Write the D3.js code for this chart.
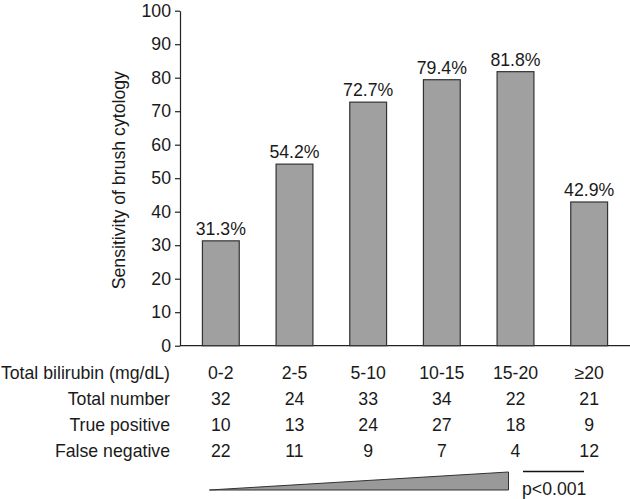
<!DOCTYPE html>
<html lang="en">
<head>
    <meta charset="UTF-8">
    <title>Sensitivity of brush cytology by total bilirubin</title>
    <script src="https://d3js.org/d3.v7.min.js"></script>
    <style>
        body {
            margin: 0;
            background: #fff;
        }
        svg {
            display: block;
            font-family: 'Liberation Sans', Arial, sans-serif;
        }
        .axis path,
        .axis line {
            stroke: #222;
            stroke-width: 1.2;
        }
        .axis text {
            font-size: 17.7px;
            fill: #1a1a1a;
        }
        .bar {
            fill: #a0a0a0;
            stroke: #333;
            stroke-width: 1.2;
        }
        .lbl {
            font-size: 17.7px;
            fill: #1a1a1a;
        }
    </style>
</head>
<body>
    <svg width="630" height="499"></svg>

    <script>
        const categories = ['0-2', '2-5', '5-10', '10-15', '15-20', '≥20'];
        const sensitivity = [31.3, 54.2, 72.7, 79.4, 81.8, 42.9];
        const totalNumber = [32, 24, 33, 34, 22, 21];
        const truePositive = [10, 13, 24, 27, 18, 9];
        const falseNegative = [22, 11, 9, 7, 4, 12];
        const yTicks = [0, 10, 20, 30, 40, 50, 60, 70, 80, 90, 100];

        const svg = d3.select('svg');
        const width = 630;
        const axisX = 180;

        const x = d3.scaleBand()
            .domain(categories)
            .range([184, 626])
            .paddingInner(0.5)
            .paddingOuter(0.25);

        const y = d3.scaleLinear()
            .domain([0, 100])
            .range([345.7, 10.7]);

        const cx = c => x(c) + x.bandwidth() / 2;

        // Y axis
        const yAxis = svg.append('g')
            .attr('class', 'axis')
            .attr('transform', `translate(${axisX},0)`)
            .call(d3.axisLeft(y).tickValues(yTicks).tickSize(5).tickSizeOuter(0).tickPadding(4));
        yAxis.attr('font-family', null).attr('font-size', null);

        // baseline
        svg.append('line')
            .attr('x1', axisX).attr('x2', width)
            .attr('y1', y(0)).attr('y2', y(0))
            .attr('stroke', '#222').attr('stroke-width', 1.2);

        // Y axis title
        svg.append('text')
            .attr('class', 'lbl')
            .attr('transform', `translate(125,${(y(0) + y(100)) / 2 + 2}) rotate(-90)`)
            .attr('text-anchor', 'middle')
            .text('Sensitivity of brush cytology');

        // Bars
        svg.append('g')
            .selectAll('rect')
            .data(categories)
            .join('rect')
            .attr('class', 'bar')
            .attr('x', c => x(c))
            .attr('y', (c, i) => y(sensitivity[i]))
            .attr('width', x.bandwidth())
            .attr('height', (c, i) => y(0) - y(sensitivity[i]));

        // Value labels
        svg.append('g')
            .selectAll('text')
            .data(categories)
            .join('text')
            .attr('class', 'lbl')
            .attr('x', c => cx(c))
            .attr('y', (c, i) => y(sensitivity[i]) - 6)
            .attr('text-anchor', 'middle')
            .text((c, i) => sensitivity[i].toFixed(1) + '%');

        // Table below the chart
        const rows = [
            { label: 'Total bilirubin (mg/dL)', values: categories, yPos: 379 },
            { label: 'Total number', values: totalNumber, yPos: 405 },
            { label: 'True positive', values: truePositive, yPos: 431 },
            { label: 'False negative', values: falseNegative, yPos: 457 }
        ];

        rows.forEach(r => {
            const g = svg.append('g');
            g.append('text')
                .attr('class', 'lbl')
                .attr('x', 170)
                .attr('y', r.yPos)
                .attr('text-anchor', 'end')
                .text(r.label);
            g.selectAll('text.v')
                .data(r.values)
                .join('text')
                .attr('class', 'lbl v')
                .attr('x', (v, i) => cx(categories[i]))
                .attr('y', r.yPos)
                .attr('text-anchor', 'middle')
                .text(v => v);
        });

        // Trend wedge under 0-2 .. 15-20
        const wx0 = x(categories[0]) + 7;
        const wx1 = x(categories[4]) + x.bandwidth() / 2 - 7;
        svg.append('path')
            .attr('d', `M${wx0},490 L${wx1},472 L${wx1},490 Z`)
            .attr('fill', '#999')
            .attr('stroke', '#333')
            .attr('stroke-width', 1);

        // p-value bracket
        svg.append('line')
            .attr('x1', 523).attr('x2', 584)
            .attr('y1', 471.5).attr('y2', 471.5)
            .attr('stroke', '#111').attr('stroke-width', 1.5);
        svg.append('text')
            .attr('class', 'lbl')
            .attr('x', 522)
            .attr('y', 495)
            .text('p<0.001');
    </script>
</body>
</html>
